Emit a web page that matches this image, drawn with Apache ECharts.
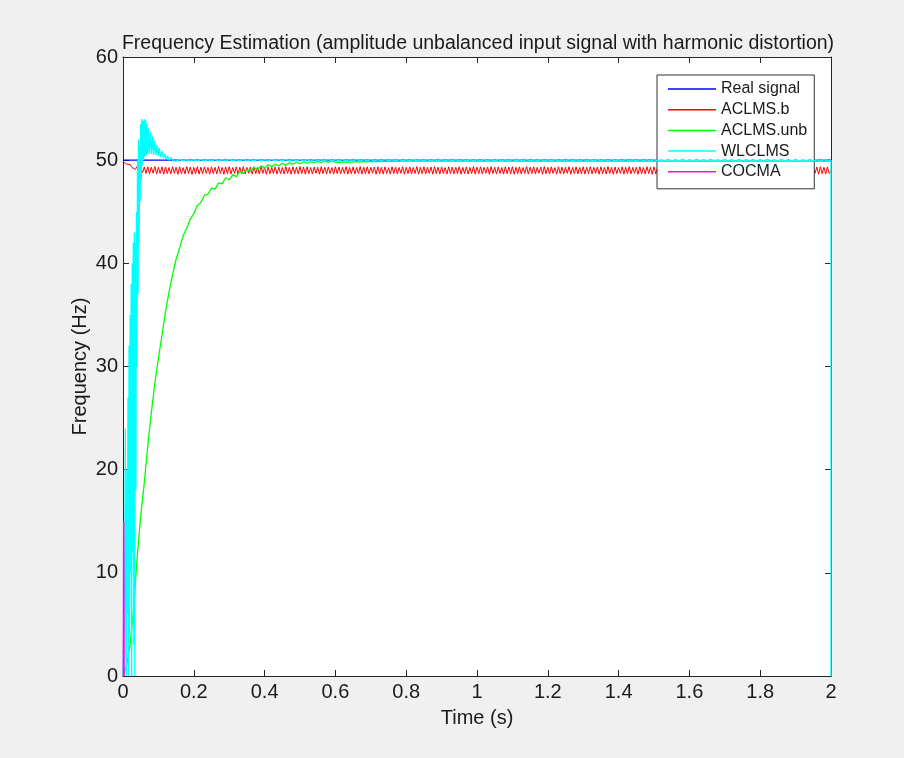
<!DOCTYPE html>
<html>
<head>
<meta charset="utf-8">
<script src="https://cdn.jsdelivr.net/npm/echarts@6/dist/echarts.min.js"></script>
<style>
html,body{margin:0;padding:0;background:#f0f0f0;}
#chart{width:904px;height:758px;}
</style>
</head>
<body>
<div id="chart"></div>
<script>
// ---------- data ----------
const titleText = 'Frequency Estimation (amplitude unbalanced input signal with harmonic distortion)';
const seriesNames = ['Real signal', 'ACLMS.b', 'ACLMS.unb', 'WLCLMS', 'COCMA'];
const xTicks = [0, 0.2, 0.4, 0.6, 0.8, 1, 1.2, 1.4, 1.6, 1.8, 2];
const yTicks = [0, 10, 20, 30, 40, 50, 60];

// Real signal
const realT = [0, 2];
const realV = [50, 50];

// ACLMS.b : sampled every 0.005 s from 0 to 2 (one row = 0.1 s)
const aclmsBV = [
 49.85,49.70,49.62,49.50,49.58,49.30,49.45,49.10,49.40,48.90,49.35,48.80,49.33,48.72,49.36,48.68,49.31,48.74,49.38,48.66,
 49.30,48.71,49.35,48.64,49.34,48.70,49.29,48.66,49.37,48.72,49.31,48.63,49.36,48.69,49.28,48.67,49.38,48.71,49.33,48.62,
 49.30,48.70,49.37,48.65,49.32,48.68,49.35,48.72,49.29,48.64,49.36,48.70,49.31,48.66,49.38,48.71,49.30,48.63,49.34,48.69,
 49.37,48.66,49.29,48.72,49.35,48.65,49.31,48.70,49.38,48.67,49.30,48.73,49.33,48.64,49.36,48.69,49.29,48.66,49.37,48.71,
 49.32,48.63,49.35,48.68,49.30,48.71,49.36,48.65,49.33,48.70,49.28,48.67,49.37,48.72,49.31,48.64,49.35,48.69,49.30,48.66,
 49.38,48.71,49.32,48.65,49.36,48.70,49.29,48.67,49.34,48.73,49.31,48.64,49.37,48.69,49.30,48.66,49.35,48.71,49.28,48.65,
 49.36,48.70,49.33,48.67,49.31,48.72,49.37,48.64,49.30,48.69,49.35,48.66,49.29,48.71,49.38,48.65,49.32,48.70,49.36,48.67,
 49.30,48.73,49.34,48.64,49.37,48.69,49.31,48.66,49.35,48.71,49.28,48.65,49.36,48.70,49.33,48.67,49.30,48.72,49.37,48.64,
 49.31,48.69,49.35,48.66,49.29,48.71,49.38,48.65,49.32,48.70,49.36,48.67,49.30,48.73,49.34,48.64,49.37,48.69,49.31,48.66,
 49.35,48.71,49.28,48.65,49.36,48.70,49.33,48.67,49.31,48.72,49.37,48.64,49.30,48.69,49.35,48.66,49.29,48.71,49.38,48.65,
 49.32,48.70,49.36,48.67,49.30,48.73,49.34,48.64,49.37,48.69,49.31,48.66,49.35,48.71,49.28,48.65,49.36,48.70,49.33,48.67,
 49.37,48.64,49.31,48.69,49.35,48.66,49.29,48.71,49.38,48.65,49.32,48.70,49.36,48.67,49.30,48.73,49.34,48.64,49.37,48.69,
 49.30,48.66,49.35,48.71,49.28,48.65,49.36,48.70,49.33,48.67,49.31,48.72,49.37,48.64,49.30,48.69,49.35,48.66,49.29,48.71,
 49.36,48.65,49.32,48.70,49.37,48.67,49.30,48.73,49.34,48.64,49.36,48.69,49.31,48.66,49.38,48.71,49.30,48.63,49.34,48.69,
 49.29,48.72,49.35,48.65,49.31,48.70,49.38,48.67,49.30,48.73,49.33,48.64,49.36,48.69,49.29,48.66,49.37,48.71,49.32,48.63,
 49.35,48.68,49.30,48.71,49.36,48.65,49.33,48.70,49.28,48.67,49.37,48.72,49.31,48.64,49.35,48.69,49.30,48.66,49.38,48.71,
 49.32,48.65,49.36,48.70,49.29,48.67,49.34,48.73,49.31,48.64,49.37,48.69,49.30,48.66,49.35,48.71,49.28,48.65,49.36,48.70,
 49.33,48.67,49.31,48.72,49.37,48.64,49.30,48.69,49.35,48.66,49.29,48.71,49.38,48.65,49.32,48.70,49.36,48.67,49.30,48.73,
 49.34,48.64,49.37,48.69,49.31,48.66,49.35,48.71,49.28,48.65,49.36,48.70,49.33,48.67,49.30,48.72,49.37,48.64,49.31,48.69,
 49.35,48.66,49.29,48.71,49.38,48.65,49.32,48.70,49.36,48.67,49.30,48.73,49.34,48.64,49.37,48.69,49.31,48.66,49.35,48.71,
 49.00
];

// ACLMS.unb : every 0.01 s from 0 to 0.60, then a coarse tail
const aclmsUnbV = [
 0,1,3,6.5,11.5,15.5,18.7,22.3,25.5,28.4,
 30.8,33.0,35.3,37.2,38.9,40.4,41.5,42.7,43.4,44.3,
 44.8,45.6,45.9,46.6,46.7,47.3,47.2,47.8,47.7,48.3,
 48.1,48.6,48.4,48.9,48.7,49.1,48.9,49.3,49.1,49.45,
 49.25,49.55,49.35,49.6,49.45,49.7,49.5,49.75,49.6,49.8,
 49.65,49.85,49.7,49.85,49.75,49.9,49.75,49.9,49.8,49.95,
 49.8
];
const aclmsUnbTailT = [0.7,0.8,0.9,1.0,1.1,1.2,1.3,1.4,1.5,1.6,1.7,1.8,1.9,2.0];
const aclmsUnbTailV = [49.85,49.9,49.9,49.9,49.9,49.9,49.9,49.9,49.9,49.9,49.9,49.9,49.9,49.9];

// WLCLMS : irregular early transient, then every 0.01 s from 0.16 to 2.00, then the final drop
const wlclmsEarlyT = [
 0.000,0.004,0.005,0.0065,0.008,0.0095,0.011,0.0125,0.014,0.0155,
 0.017,0.0185,0.020,0.0215,0.023,0.0245,0.026,0.0275,0.029,0.0305,
 0.032,0.0335,0.035,0.0365,0.038,0.0395,0.041,0.0425,0.044,0.0455,
 0.047,0.0485,0.050,0.0515,0.053,0.0545,0.056,0.058,0.060,0.062,
 0.064,0.066,0.068,0.070,0.072,0.075,0.078,0.081,0.084,0.087,
 0.090,0.093,0.096,0.099,0.102,0.106,0.110,0.114,0.118,0.122,
 0.126,0.131,0.136,0.141,0.146,0.150
];
const wlclmsEarlyV = [
 0,0,10,24,2,0,20,6,27,0,
 32,4,35,10,38,0,40,12,42,3,
 43,0,42,18,45,30,50,37,52,42,
 51.5,46,53.5,48,54,49.5,53.8,50,54,50.3,
 53.9,50.5,53.5,50.6,53.1,50.6,52.7,50.6,52.3,50.5,
 51.9,50.5,51.5,50.4,51.2,50.3,50.9,50.2,50.6,50.1,
 50.4,50.0,50.25,49.95,50.1,49.9
];
const wlclmsTailV = [
 50.07,49.93,50.05,49.92,
 50.06,49.94,50.08,49.92,50.05,49.93,50.07,49.94,50.06,49.92,50.08,49.93,50.05,49.94,50.07,49.92,50.06,49.93,50.08,49.94,
 50.05,49.92,50.07,49.93,50.06,49.94,50.08,49.92,50.05,49.93,50.07,49.94,50.06,49.92,50.08,49.93,50.05,49.94,50.07,49.92,
 50.06,49.93,50.08,49.94,50.05,49.92,50.07,49.93,50.06,49.94,50.08,49.92,50.05,49.93,50.07,49.94,50.06,49.92,50.08,49.93,
 50.05,49.94,50.07,49.92,50.06,49.93,50.08,49.94,50.05,49.92,50.07,49.93,50.06,49.94,50.08,49.92,50.05,49.93,50.07,49.94,
 50.06,49.92,50.08,49.93,50.05,49.94,50.07,49.92,50.06,49.93,50.08,49.94,50.05,49.92,50.07,49.93,50.06,49.94,50.08,49.92,
 50.05,49.93,50.07,49.94,50.06,49.92,50.08,49.93,50.05,49.94,50.07,49.92,50.06,49.93,50.08,49.94,50.05,49.92,50.07,49.93,
 50.06,49.94,50.08,49.92,50.05,49.93,50.07,49.94,50.06,49.92,50.08,49.93,50.05,49.94,50.07,49.92,50.06,49.93,50.08,49.94,
 50.05,49.92,50.07,49.93,50.06,49.94,50.08,49.92,50.05,49.93,50.07,49.94,50.06,49.92,50.08,49.93,50.05,49.94,50.07,49.92,
 50.06,49.93,50.08,49.94,50.05,49.92,50.07,49.93,50.06,49.94,50.08,49.92,50.05,49.93,50.07,49.94,50.06,49.92,50.08,49.93,
 49.98
];
const wlclmsEndT = [2.0];
const wlclmsEndV = [0];

// COCMA : only a short spike near t = 0 is visible
const cocmaT = [0.001, 0.002, 0.003];
const cocmaV = [0, 15, 0];

// ---------- build ----------
function gridTimes(start, step, n) {
  const out = [];
  for (let i = 0; i < n; i++) out.push(+(start + i * step).toFixed(4));
  return out;
}
function zip(t, v) { return t.map((x, i) => [x, v[i]]); }

const realData = zip(realT, realV);
const aclmsBData = zip(gridTimes(0, 0.005, aclmsBV.length), aclmsBV);
const aclmsUnbData = zip(gridTimes(0, 0.01, aclmsUnbV.length), aclmsUnbV).concat(zip(aclmsUnbTailT, aclmsUnbTailV));
const wlclmsData = zip(wlclmsEarlyT, wlclmsEarlyV)
  .concat(zip(gridTimes(0.16, 0.01, wlclmsTailV.length), wlclmsTailV))
  .concat(zip(wlclmsEndT, wlclmsEndV));
const cocmaData = zip(cocmaT, cocmaV);

const colors = ['#0000ff', '#ff0000', '#00ff00', '#00ffff', '#ff00ff'];
const widths = [1.2, 1, 1.3, 1.3, 1.5];
const datas = [realData, aclmsBData, aclmsUnbData, wlclmsData, cocmaData];

const FONT = 'Liberation Sans, Arial, sans-serif';
const AX = '#262626';
const TXT = '#1a1a1a';

const chart = echarts.init(document.getElementById('chart'), null, {renderer: 'canvas'});
const fmt = v => String(+v.toFixed(1));

chart.setOption({
  backgroundColor: '#f0f0f0',
  animation: false,
  textStyle: {fontFamily: FONT},
  title: {
    text: titleText,
    left: 473, top: 29, textAlign: 'center',
    textStyle: {fontFamily: FONT, fontSize: 19.5, fontWeight: 'normal', color: TXT}
  },
  grid: {left: 123, right: 73, top: 57, bottom: 82, show: true, backgroundColor: '#ffffff', borderWidth: 0},
  legend: {
    orient: 'vertical', left: 657, top: 75,
    data: seriesNames,
    icon: 'rect', itemWidth: 48, itemHeight: 1.5, itemGap: 4.7,
    padding: [6, 7, 9, 11],
    backgroundColor: '#ffffff', borderColor: '#333333', borderWidth: 1,
    textStyle: {fontFamily: FONT, fontSize: 16, color: TXT, lineHeight: 16}
  },
  xAxis: [{
    type: 'value', min: 0, max: 2, interval: 0.2, position: 'bottom',
    name: 'Time (s)', nameLocation: 'middle', nameGap: 32, nameMoveOverlap: false,
    nameTextStyle: {fontFamily: FONT, fontSize: 20, color: TXT},
    axisLine: {show: true, onZero: false, lineStyle: {color: AX, width: 1}},
    axisTick: {show: true, inside: true, length: 6, lineStyle: {color: AX}},
    axisLabel: {show: true, margin: 6, fontFamily: FONT, fontSize: 20, color: TXT, formatter: fmt},
    splitLine: {show: false}
  }, {
    type: 'value', min: 0, max: 2, interval: 0.2, position: 'top',
    axisLine: {show: true, onZero: false, lineStyle: {color: AX, width: 1}},
    axisTick: {show: true, inside: true, length: 6, lineStyle: {color: AX}},
    axisLabel: {show: false}, splitLine: {show: false}
  }],
  yAxis: [{
    type: 'value', min: 0, max: 60, interval: 10, position: 'left',
    name: 'Frequency (Hz)', nameLocation: 'middle', nameGap: 33, nameMoveOverlap: false,
    nameTextStyle: {fontFamily: FONT, fontSize: 20, color: TXT},
    axisLine: {show: true, onZero: false, lineStyle: {color: AX, width: 1}},
    axisTick: {show: true, inside: true, length: 6, lineStyle: {color: AX}},
    axisLabel: {show: true, margin: 5, fontFamily: FONT, fontSize: 20, color: TXT},
    splitLine: {show: false}
  }, {
    type: 'value', min: 0, max: 60, interval: 10, position: 'right',
    axisLine: {show: true, onZero: false, lineStyle: {color: AX, width: 1}},
    axisTick: {show: true, inside: true, length: 6, lineStyle: {color: AX}},
    axisLabel: {show: false}, splitLine: {show: false}
  }],
  series: seriesNames.map((name, i) => ({
    name: name, type: 'line', data: datas[i],
    xAxisIndex: 0, yAxisIndex: 0,
    showSymbol: false, symbol: 'none',
    color: colors[i],
    lineStyle: {color: colors[i], width: widths[i]},
    itemStyle: {color: colors[i]},
    emphasis: {disabled: true},
    sampling: null, z: 2 + i
  }))
});
</script>
</body>
</html>
